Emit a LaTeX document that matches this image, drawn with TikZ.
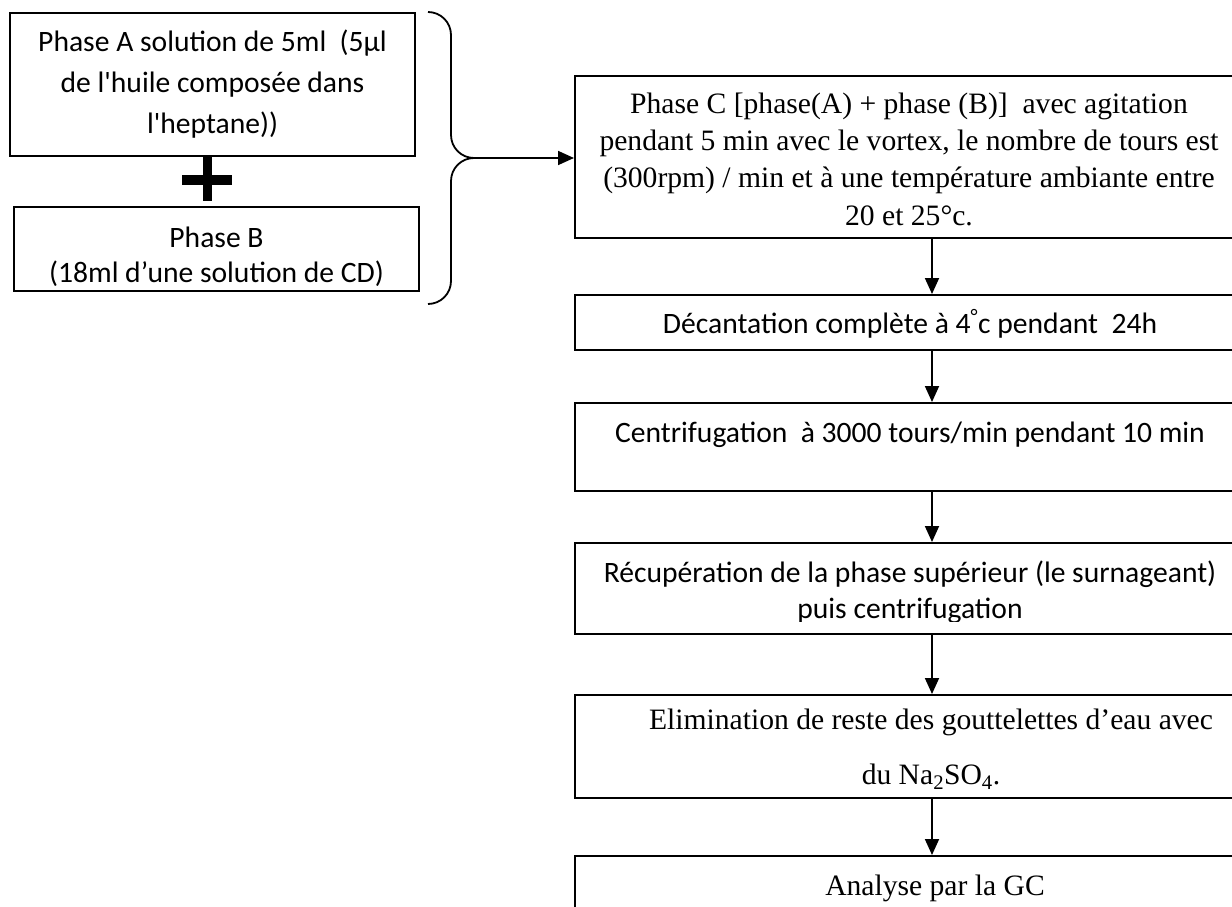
\documentclass[tikz,border=0pt]{standalone}
\usepackage{fontspec}
\setmainfont{Carlito}
\newfontfamily\timesfont{Liberation Serif}
\usetikzlibrary{calc,arrows.meta}

\tikzset{
    stepbox/.style={
        draw,
        line width=2pt,
        minimum width=670,
        inner sep=0pt,
        align=center,
    },
    phasebox/.style={
        draw,
        line width=2pt,
        minimum width=405,
        inner sep=0pt,
        align=center,
    },
    sans/.style={font=\fontsize{29.6}{#1}\selectfont, align=center, inner sep=0pt},
    sans/.default=41,
    serif/.style={font=\timesfont\fontsize{29.6}{#1}\selectfont, align=center, inner sep=0pt},
    serif/.default=37.3,
    flow/.style={-{Triangle[length=16pt,width=14pt]}, line width=1.8pt},
    bracket/.style={line width=1.8pt, rounded corners=23pt},
}

\begin{document}
\begin{tikzpicture}[x=1pt, y=-1pt]
    \useasboundingbox (0, 0) rectangle (1232, 907);
    \clip (0, 0) rectangle (1232, 907);

    % Phase A and phase B
    \node[phasebox, sans, minimum height=143] (phaseA) at (212.5, 84.5)
      {Phase A solution de 5ml\ \ (5µl\\de l\textquotesingle huile composée dans\\l\textquotesingle heptane))};
    \node[phasebox, minimum height=84] (phaseB) at (216.5, 249) {};
    \begin{scope}
      \clip (phaseB.north west) rectangle ($(phaseB.south east) + (0, -7)$);
      \node[sans=35] (phaseBtext) at (216.5, 257) {Phase B\\(18ml d’une solution de CD)};
    \end{scope}

    % The plus sign between them
    \coordinate (plus) at (207, 180);
    \draw[line width=10pt] ($(plus) + (-25, 0)$) -- ($(plus) + (25, 0)$);
    \draw[line width=9pt] ($(plus) + (0, -23)$) -- ($(plus) + (0, 21)$);

    % Brace joining A and B
    \coordinate (tip) at (474, 158);
    \draw[bracket] (428, 12) -- (451, 12) -- (451, 158) -- (tip);
    \draw[bracket] (tip) -- (451, 158) -- (451, 304) -- (428, 304);

    % Right column
    \node[stepbox, minimum height=162] (phaseC) at (910, 157) {};
    \begin{scope}
      \clip (phaseC.north west) rectangle ($(phaseC.south east) + (0, -12)$);
      \node[serif] (phaseCtext) at (909, 159)
        {Phase C [phase(A) + phase (B)]\ \ avec agitation\\
         pendant 5 min avec le vortex, le nombre de tours est\\
         (300rpm) / min et à une température ambiante entre\\
         20 et 25°c.};
    \end{scope}
    \node[stepbox, sans, text height=24, text depth=3, minimum height=55] (decant) at (910, 322.5)
      {Décantation complète à 4\textsuperscript{°}c pendant\ \ 24h};
    \node[stepbox, sans, text height=22, text depth=32, minimum height=88] (centri) at (910, 447)
      {Centrifugation\ \ à 3000 tours/min pendant 10 min};
    \node[stepbox, minimum height=91] (recup) at (910, 588.5) {};
    \begin{scope}
      \clip (recup.north west) rectangle ($(recup.south east) + (0, -14)$);
      \node[sans=36] (recuptext) at (910, 592)
        {Récupération de la phase supérieur (le surnageant)\\puis centrifugation};
    \end{scope}
    \node[stepbox, minimum height=103] (elim) at (910, 746.5) {};
    \node[serif=55] (elimtext) at (931, 749.5)
      {Elimination de reste des gouttelettes d’eau avec\\du Na\textsubscript{2}SO\textsubscript{4}.};
    \node[stepbox, minimum height=90] (gc) at (910, 901) {};
    \node[serif, anchor=base] (gctext) at (935, 895) {Analyse par la GC};

    % Arrows
    \coordinate (col) at (932, 0);
    \draw[flow] (tip) -- (tip -| phaseC.west);
    \draw[flow] (phaseC.south -| col) -- (decant.north -| col);
    \draw[flow] (decant.south -| col) -- (centri.north -| col);
    \draw[flow] (centri.south -| col) -- (recup.north -| col);
    \draw[flow] (recup.south -| col) -- (elim.north -| col);
    \draw[flow] (elim.south -| col) -- (gc.north -| col);
\end{tikzpicture}
\end{document}
